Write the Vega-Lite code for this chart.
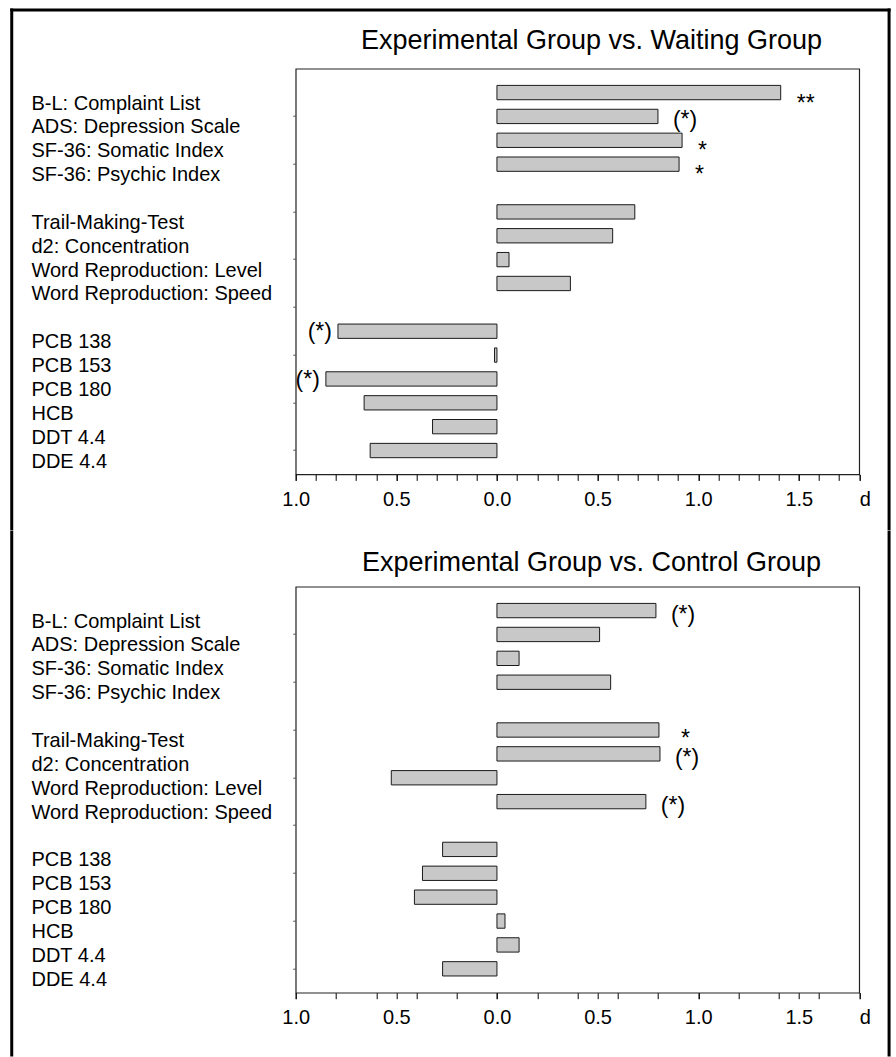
{
  "$schema": "https://vega.github.io/schema/vega-lite/v6.json",
  "padding": {"left": 8.7, "top": 6.7, "right": 0, "bottom": 0},
  "spacing": -3,
  "config": {
    "font": "Liberation Sans",
    "view": {"stroke": "#222222", "strokeWidth": 1.2},
    "axis": {"grid": false}
  },
  "vconcat": [
    {
      "width": 563.5,
      "height": 405.7,
      "title": {"text": "Experimental Group vs. Waiting Group", "font": "Liberation Sans", "fontSize": 27, "fontWeight": "normal", "color": "#000000", "anchor": "middle", "frame": "group", "baseline": "alphabetic", "offset": -68.5, "dx": 14},
      "data": {"values": [
        {"measure": "B-L: Complaint List", "d": 1.41, "sig": "**"},
        {"measure": "ADS: Depression Scale", "d": 0.80, "sig": "(*)"},
        {"measure": "SF-36: Somatic Index", "d": 0.92, "sig": "*"},
        {"measure": "SF-36: Psychic Index", "d": 0.905, "sig": "*"},
        {"measure": "Trail-Making-Test", "d": 0.685, "sig": ""},
        {"measure": "d2: Concentration", "d": 0.575, "sig": ""},
        {"measure": "Word Reproduction: Level", "d": 0.06, "sig": ""},
        {"measure": "Word Reproduction: Speed", "d": 0.365, "sig": ""},
        {"measure": "PCB 138", "d": -0.79, "sig": "(*)"},
        {"measure": "PCB 153", "d": -0.012, "sig": ""},
        {"measure": "PCB 180", "d": -0.85, "sig": "(*)"},
        {"measure": "HCB", "d": -0.66, "sig": ""},
        {"measure": "DDT 4.4", "d": -0.32, "sig": ""},
        {"measure": "DDE 4.4", "d": -0.63, "sig": ""}
      ]},
      "layer": [
        {
          "encoding": {
            "y": {"field": "measure", "type": "nominal",
              "scale": {"domain": ["B-L: Complaint List","ADS: Depression Scale","SF-36: Somatic Index","SF-36: Psychic Index"," ","Trail-Making-Test","d2: Concentration","Word Reproduction: Level","Word Reproduction: Speed","  ","PCB 138","PCB 153","PCB 180","HCB","DDT 4.4","DDE 4.4"], "paddingInner": 0.4, "paddingOuter": 0.7},
              "axis": {"title": null, "domain": false, "ticks": true, "tickSize": 3, "tickColor": "#555555",
                "tickOpacity": {"condition": {"test": "indexof(['ADS: Depression Scale','SF-36: Psychic Index','Trail-Making-Test','Word Reproduction: Level','  ','PCB 153','HCB','DDE 4.4'], datum.value) >= 0", "value": 1}, "value": 0},
                "labelAlign": "left", "labelPadding": 261.7, "labelOffset": 11, "labelFontSize": 20, "labelFont": "Liberation Sans", "labelColor": "#000000", "labelLimit": 400}}
          },
          "layer": [
            {
              "mark": {"type": "bar", "fill": "#c8c8c8", "stroke": "#1a1a1a", "strokeWidth": 1},
              "encoding": {
                "x": {"field": "d", "type": "quantitative", "scale": {"domain": [-1, 1.8], "nice": false, "zero": false},
                  "axis": {"title": null, "domain": false, "grid": false, "values": [-1, -0.5, 0, 0.5, 1, 1.5, 1.8],
                    "labelExpr": "datum.value > 1.75 ? 'd' : format(abs(datum.value), '.1f')",
                    "labelAlign": {"condition": {"test": "datum.value > 1.75", "value": "left"}, "value": "center"},
                    "labelFlush": false, "labelOverlap": false, "labelFontSize": 20, "labelFont": "Liberation Sans", "labelColor": "#000000", "labelPadding": 9,
                    "tickSize": 6, "tickColor": "#000000", "tickWidth": 1}}
              }
            },
            {
              "mark": {"type": "rule", "color": "#333333", "strokeWidth": 1.2},
              "encoding": {"x": {"datum": 0, "type": "quantitative"}}
            },
            {
              "transform": [{"filter": "datum.sig === '(*)' && datum.d > 0"}],
              "mark": {"type": "text", "align": "left", "baseline": "alphabetic", "dx": 15, "dy": 11, "fontSize": 23, "color": "#000000"},
              "encoding": {"x": {"field": "d", "type": "quantitative"}, "text": {"field": "sig"}}
            },
            {
              "transform": [{"filter": "datum.sig === '(*)' && datum.d < 0"}],
              "mark": {"type": "text", "align": "right", "baseline": "alphabetic", "dx": -6, "dy": 8, "fontSize": 23, "color": "#000000"},
              "encoding": {"x": {"field": "d", "type": "quantitative"}, "text": {"field": "sig"}}
            },
            {
              "transform": [{"filter": "datum.sig === '*' || datum.sig === '**'"}],
              "mark": {"type": "text", "align": "left", "baseline": "alphabetic", "dx": 16, "dy": 18, "fontSize": 23, "color": "#000000"},
              "encoding": {"x": {"field": "d", "type": "quantitative"}, "text": {"field": "sig"}}
            }
          ]
        },
        {
          "data": {"values": [{}]},
          "encoding": {
            "x": {"datum": -2.411, "type": "quantitative", "scale": {"domain": [-1, 1.8], "nice": false, "zero": false},
              "axis": {"orient": "bottom", "title": null, "domain": false, "grid": false, "labels": false, "tickSize": 6, "tickColor": "#000000", "tickWidth": 1,
                "values": [-1,-0.9,-0.8,-0.7,-0.6,-0.5,-0.4,-0.3,-0.2,-0.1,0,0.1,0.2,0.3,0.4,0.5,0.6,0.7,0.8,0.9,1,1.1,1.2,1.3,1.4,1.5,1.6,1.7,1.8]}},
            "y": {"datum": -2.456, "type": "quantitative", "scale": {"domain": [0, 17], "reverse": true, "nice": false, "zero": false}, "axis": null}
          },
          "layer": [
            {
              "mark": {"type": "rule", "color": "#000000", "strokeWidth": 3, "strokeCap": "square"},
              "encoding": {"x2": {"datum": 1.9485}}
            },
            {
              "mark": {"type": "rule", "color": "#000000", "strokeWidth": 3, "strokeCap": "square"},
              "encoding": {"y2": {"datum": 19.263}}
            },
            {
              "mark": {"type": "rule", "color": "#000000", "strokeWidth": 3, "strokeCap": "square"},
              "encoding": {
                "x": {"datum": 1.9485, "type": "quantitative"},
                "y2": {"datum": 19.263}
              }
            }
          ]
        }
      ],
      "resolve": {"scale": {"y": "independent", "x": "independent"}, "axis": {"x": "independent"}}
    },
    {
      "width": 563.5,
      "height": 406,
      "title": {"text": "Experimental Group vs. Control Group", "font": "Liberation Sans", "fontSize": 27, "fontWeight": "normal", "color": "#000000", "anchor": "middle", "frame": "group", "baseline": "alphabetic", "offset": -68, "dx": 14},
      "data": {"values": [
        {"measure": "B-L: Complaint List", "d": 0.79, "sig": "(*)"},
        {"measure": "ADS: Depression Scale", "d": 0.51, "sig": ""},
        {"measure": "SF-36: Somatic Index", "d": 0.11, "sig": ""},
        {"measure": "SF-36: Psychic Index", "d": 0.565, "sig": ""},
        {"measure": "Trail-Making-Test", "d": 0.805, "sig": "*"},
        {"measure": "d2: Concentration", "d": 0.81, "sig": "(*)"},
        {"measure": "Word Reproduction: Level", "d": -0.525, "sig": ""},
        {"measure": "Word Reproduction: Speed", "d": 0.74, "sig": "(*)"},
        {"measure": "PCB 138", "d": -0.27, "sig": ""},
        {"measure": "PCB 153", "d": -0.37, "sig": ""},
        {"measure": "PCB 180", "d": -0.41, "sig": ""},
        {"measure": "HCB", "d": 0.04, "sig": ""},
        {"measure": "DDT 4.4", "d": 0.11, "sig": ""},
        {"measure": "DDE 4.4", "d": -0.27, "sig": ""}
      ]},
      "layer": [
        {
          "encoding": {
            "y": {"field": "measure", "type": "nominal",
              "scale": {"domain": ["B-L: Complaint List","ADS: Depression Scale","SF-36: Somatic Index","SF-36: Psychic Index"," ","Trail-Making-Test","d2: Concentration","Word Reproduction: Level","Word Reproduction: Speed","  ","PCB 138","PCB 153","PCB 180","HCB","DDT 4.4","DDE 4.4"], "paddingInner": 0.4, "paddingOuter": 0.7},
              "axis": {"title": null, "domain": false, "ticks": true, "tickSize": 3, "tickColor": "#555555",
                "tickOpacity": {"condition": {"test": "indexof(['ADS: Depression Scale','SF-36: Psychic Index','Trail-Making-Test','Word Reproduction: Level','  ','PCB 153','HCB','DDE 4.4'], datum.value) >= 0", "value": 1}, "value": 0},
                "labelAlign": "left", "labelPadding": 261.7, "labelOffset": 11, "labelFontSize": 20, "labelFont": "Liberation Sans", "labelColor": "#000000", "labelLimit": 400}}
          },
          "layer": [
            {
              "mark": {"type": "bar", "fill": "#c8c8c8", "stroke": "#1a1a1a", "strokeWidth": 1},
              "encoding": {
                "x": {"field": "d", "type": "quantitative", "scale": {"domain": [-1, 1.8], "nice": false, "zero": false},
                  "axis": {"title": null, "domain": false, "grid": false, "values": [-1, -0.5, 0, 0.5, 1, 1.5, 1.8],
                    "labelExpr": "datum.value > 1.75 ? 'd' : format(abs(datum.value), '.1f')",
                    "labelAlign": {"condition": {"test": "datum.value > 1.75", "value": "left"}, "value": "center"},
                    "labelFlush": false, "labelOverlap": false, "labelFontSize": 20, "labelFont": "Liberation Sans", "labelColor": "#000000", "labelPadding": 9,
                    "tickSize": 6, "tickColor": "#000000", "tickWidth": 1}}
              }
            },
            {
              "mark": {"type": "rule", "color": "#333333", "strokeWidth": 1.2},
              "encoding": {"x": {"datum": 0, "type": "quantitative"}}
            },
            {
              "transform": [{"filter": "datum.sig === '(*)' && datum.d > 0"}],
              "mark": {"type": "text", "align": "left", "baseline": "alphabetic", "dx": 15, "dy": 11, "fontSize": 23, "color": "#000000"},
              "encoding": {"x": {"field": "d", "type": "quantitative"}, "text": {"field": "sig"}}
            },
            {
              "transform": [{"filter": "datum.sig === '*' || datum.sig === '**'"}],
              "mark": {"type": "text", "align": "left", "baseline": "alphabetic", "dx": 22, "dy": 16, "fontSize": 23, "color": "#000000"},
              "encoding": {"x": {"field": "d", "type": "quantitative"}, "text": {"field": "sig"}}
            }
          ]
        },
        {
          "data": {"values": [{}]},
          "encoding": {
            "y": {"datum": -2.2906, "type": "quantitative", "scale": {"domain": [0, 17], "reverse": true, "nice": false, "zero": false}, "axis": null},
            "y2": {"datum": 19.61}
          },
          "layer": [
            {
              "mark": {"type": "rule", "color": "#000000", "strokeWidth": 3, "strokeCap": "square"},
              "encoding": {
                "x": {"datum": -2.411, "type": "quantitative", "scale": {"domain": [-1, 1.8], "nice": false, "zero": false},
                  "axis": {"orient": "bottom", "title": null, "domain": false, "grid": false, "labels": false, "tickSize": 6, "tickColor": "#000000", "tickWidth": 1,
                    "values": [-1,-0.9,-0.8,-0.7,-0.6,-0.5,-0.4,-0.3,-0.2,-0.1,0,0.1,0.2,0.3,0.4,0.5,0.6,0.7,0.8,0.9,1,1.1,1.2,1.3,1.4,1.5,1.6,1.7,1.8]}}
              }
            },
            {
              "mark": {"type": "rule", "color": "#000000", "strokeWidth": 3, "strokeCap": "square"},
              "encoding": {"x": {"datum": 1.9485, "type": "quantitative"}}
            }
          ]
        }
      ],
      "resolve": {"scale": {"y": "independent", "x": "independent"}, "axis": {"x": "independent"}}
    }
  ]
}
